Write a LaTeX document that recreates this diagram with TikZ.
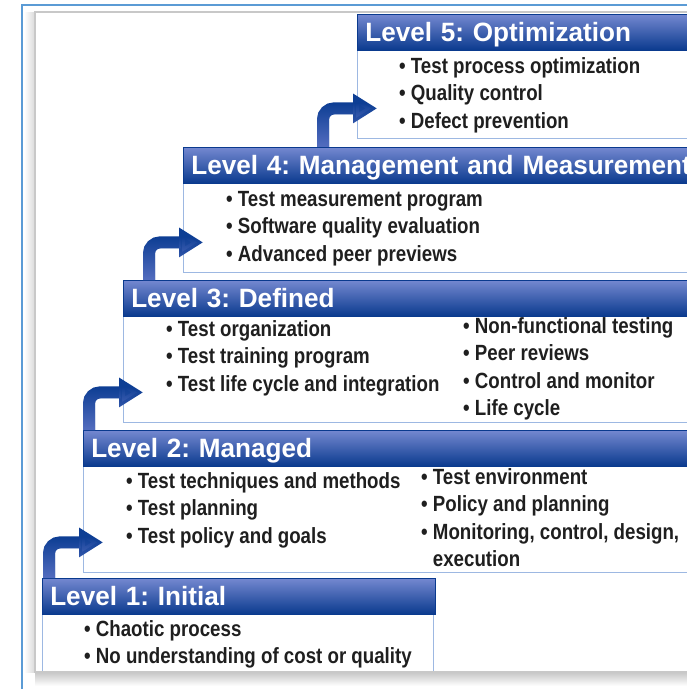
\documentclass[tikz,border=0pt]{standalone}
\usepackage{fontspec}
\setmainfont{Liberation Sans}
\newfontfamily\headfont{Liberation Sans}[FakeStretch=0.985]
\newfontfamily\listfont{Liberation Sans}[FakeStretch=0.85]
\usetikzlibrary{arrows.meta,fadings}
\frenchspacing

\definecolor{hdrtop}{HTML}{7488D0}
\definecolor{hdrbot}{HTML}{0A3A8E}
\definecolor{boxline}{HTML}{9DB8E2}
\definecolor{frameblue}{HTML}{5B9BD5}
\definecolor{framegray}{HTML}{C8C8C8}
\definecolor{arrowdark}{HTML}{0D3E94}
\definecolor{arrowlight}{HTML}{5E74C6}

\tikzset{
  level head/.style={anchor=north west, minimum height=36pt, inner xsep=8pt, inner ysep=0pt,
    text height=19pt, text depth=1pt, align=left, text=white,
    top color=hdrtop, bottom color=hdrbot, draw=hdrbot, line width=0.6pt,
    font=\headfont\bfseries\fontsize{26.5}{30}\selectfont},
  level body/.style={anchor=north west, draw=boxline, line width=1.4pt, fill=white, inner sep=0pt},
  item list/.style={anchor=base west, inner sep=0pt, text=black!88,
    font=\listfont\bfseries\fontsize{22}{27.5}\selectfont},
  stairs/.style={line width=12pt, rounded corners=11pt,
    -{Triangle[width=28pt,length=24pt]}}
}

% one bullet list, baseline on its first row
\newcommand{\bullets}[1]{\begin{tabular}[t]{@{}l@{}}#1\end{tabular}}

\begin{document}
\begin{tikzpicture}[x=1pt, y=-1pt]

  \useasboundingbox (0,0) rectangle (687,689);

  % frame and its shadow
  \shade[top color=gray!45, bottom color=white] (35,672) rectangle (687,686);
  \shade[left color=white, right color=gray!30] (24,12) rectangle (35,672);
  \fill[white] (35,12) rectangle (687,672);

  \begin{scope}
    \clip (35,12) rectangle (687,671);

    % boxes under the headers
    \foreach \n/\xl/\yt/\w/\bh in {5/357/14/343/88, 4/183/147/517/89, 3/123/280/577/106,
                                   2/83/430/617/106, 1/42/578/391/110}
      \node [level body, minimum width=\w pt, minimum height=\bh pt] (body-\n) at (\xl,\yt+36) {};

    % headers
    \foreach \n/\xl/\yt/\tw/\title in {5/357/14/680/{Level 5: Optimization},
                                      4/183/147/680/{Level 4: Management and Measurement},
                                      3/123/280/680/{Level 3: Defined},
                                      2/83/430/680/{Level 2: Managed},
                                      1/42/578/377/{Level 1: Initial}}
      \node [level head, text width=\tw pt] (head-\n) at (\xl,\yt) {\title};

    % steps up
    \foreach \i/\j in {1/2,2/3,3/4,4/5} {
      \coordinate (stem-\j) at ([xshift=-34pt]body-\j.south west);
      \coordinate (tip-\j) at ([xshift=20pt,yshift=31pt]body-\j.south west);
      \draw [stairs, arrowdark] (stem-\j |- head-\i.north) |- (tip-\j);
      \draw [stairs, arrowlight, path fading=north] (stem-\j |- head-\i.north) |- (tip-\j);
    }

    % bullet lists
    \node [item list] (list-5) at (399,73)
      {\bullets{\textbullet\ Test process optimization\\ \textbullet\ Quality control\\ \textbullet\ Defect prevention}};
    \node [item list] (list-4) at (226,206)
      {\bullets{\textbullet\ Test measurement program\\ \textbullet\ Software quality evaluation\\ \textbullet\ Advanced peer previews}};
    \node [item list] (list-3a) at (166,336)
      {\bullets{\textbullet\ Test organization\\ \textbullet\ Test training program\\ \textbullet\ Test life cycle and integration}};
    \node [item list] (list-3b) at (463,333)
      {\bullets{\textbullet\ Non-functional testing\\ \textbullet\ Peer reviews\\ \textbullet\ Control and monitor\\ \textbullet\ Life cycle}};
    \node [item list] (list-2a) at (126,488)
      {\bullets{\textbullet\ Test techniques and methods\\ \textbullet\ Test planning\\ \textbullet\ Test policy and goals}};
    \node [item list] (list-2b) at (421,484)
      {\bullets{\textbullet\ Test environment\\ \textbullet\ Policy and planning\\ \textbullet\ Monitoring, control, design,\\ \hphantom{\textbullet\ }execution}};
    \node [item list] (list-1) at (84,636)
      {\bullets{\textbullet\ Chaotic process\\ \textbullet\ No understanding of cost or quality}};
  \end{scope}

  \draw [framegray, line width=2pt] (687,12) -- (35,12) -- (35,672) -- (687,672);
  \draw [frameblue, line width=2pt] (22,689) -- (22,5) -- (687,5);

\end{tikzpicture}
\end{document}
